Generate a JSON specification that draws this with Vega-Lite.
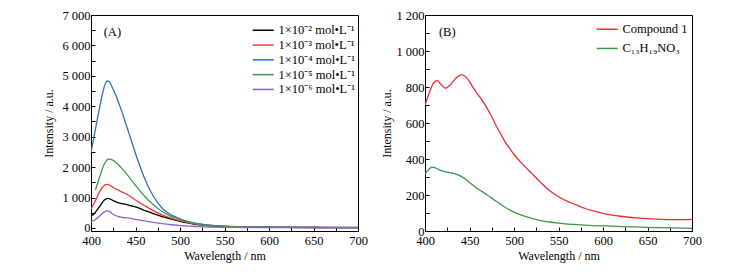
{
  "$schema": "https://vega.github.io/schema/vega-lite/v6.json",
  "padding": {"left": 42, "top": 8, "right": 5, "bottom": 5},
  "background": "white",
  "config": {
    "font": "Liberation Serif",
    "view": {"stroke": "#000", "strokeWidth": 1},
    "axis": {
      "grid": false, "domainColor": "#000", "tickColor": "#000", "labelColor": "#000", "titleColor": "#000",
      "labelFont": "Liberation Serif", "titleFont": "Liberation Serif", "labelFontSize": 12.5, "titleFontSize": 12,
      "titleFontWeight": "normal", "labelFlush": false, "labelOverlap": false, "tickSize": -4
    },
    "legend": {"labelFont": "Liberation Serif", "labelFontSize": 12.5, "labelColor": "#000"}
  },
  "datasets": {
    "A": [
      {"s": "1×10⁻² mol•L⁻¹", "wl": 400, "v": 400}, {"s": "1×10⁻² mol•L⁻¹", "wl": 403, "v": 450}, {"s": "1×10⁻² mol•L⁻¹", "wl": 405, "v": 520}, {"s": "1×10⁻² mol•L⁻¹", "wl": 410, "v": 720}, {"s": "1×10⁻² mol•L⁻¹", "wl": 415, "v": 920}, {"s": "1×10⁻² mol•L⁻¹", "wl": 419, "v": 975}, {"s": "1×10⁻² mol•L⁻¹", "wl": 425, "v": 900}, {"s": "1×10⁻² mol•L⁻¹", "wl": 430, "v": 830}, {"s": "1×10⁻² mol•L⁻¹", "wl": 435, "v": 800}, {"s": "1×10⁻² mol•L⁻¹", "wl": 440, "v": 770}, {"s": "1×10⁻² mol•L⁻¹", "wl": 445, "v": 730}, {"s": "1×10⁻² mol•L⁻¹", "wl": 450, "v": 690}, {"s": "1×10⁻² mol•L⁻¹", "wl": 460, "v": 580}, {"s": "1×10⁻² mol•L⁻¹", "wl": 470, "v": 470}, {"s": "1×10⁻² mol•L⁻¹", "wl": 480, "v": 370}, {"s": "1×10⁻² mol•L⁻¹", "wl": 490, "v": 290}, {"s": "1×10⁻² mol•L⁻¹", "wl": 500, "v": 220}, {"s": "1×10⁻² mol•L⁻¹", "wl": 510, "v": 160}, {"s": "1×10⁻² mol•L⁻¹", "wl": 520, "v": 110}, {"s": "1×10⁻² mol•L⁻¹", "wl": 530, "v": 75}, {"s": "1×10⁻² mol•L⁻¹", "wl": 550, "v": 45}, {"s": "1×10⁻² mol•L⁻¹", "wl": 600, "v": 25}, {"s": "1×10⁻² mol•L⁻¹", "wl": 650, "v": 15}, {"s": "1×10⁻² mol•L⁻¹", "wl": 700, "v": 10},
      {"s": "1×10⁻³ mol•L⁻¹", "wl": 400, "v": 615}, {"s": "1×10⁻³ mol•L⁻¹", "wl": 405, "v": 900}, {"s": "1×10⁻³ mol•L⁻¹", "wl": 410, "v": 1200}, {"s": "1×10⁻³ mol•L⁻¹", "wl": 415, "v": 1400}, {"s": "1×10⁻³ mol•L⁻¹", "wl": 418, "v": 1435}, {"s": "1×10⁻³ mol•L⁻¹", "wl": 420, "v": 1420}, {"s": "1×10⁻³ mol•L⁻¹", "wl": 425, "v": 1330}, {"s": "1×10⁻³ mol•L⁻¹", "wl": 430, "v": 1250}, {"s": "1×10⁻³ mol•L⁻¹", "wl": 435, "v": 1180}, {"s": "1×10⁻³ mol•L⁻¹", "wl": 440, "v": 1110}, {"s": "1×10⁻³ mol•L⁻¹", "wl": 450, "v": 920}, {"s": "1×10⁻³ mol•L⁻¹", "wl": 460, "v": 740}, {"s": "1×10⁻³ mol•L⁻¹", "wl": 470, "v": 570}, {"s": "1×10⁻³ mol•L⁻¹", "wl": 480, "v": 430}, {"s": "1×10⁻³ mol•L⁻¹", "wl": 490, "v": 320}, {"s": "1×10⁻³ mol•L⁻¹", "wl": 500, "v": 240}, {"s": "1×10⁻³ mol•L⁻¹", "wl": 510, "v": 170}, {"s": "1×10⁻³ mol•L⁻¹", "wl": 520, "v": 120}, {"s": "1×10⁻³ mol•L⁻¹", "wl": 530, "v": 85}, {"s": "1×10⁻³ mol•L⁻¹", "wl": 550, "v": 50}, {"s": "1×10⁻³ mol•L⁻¹", "wl": 600, "v": 25}, {"s": "1×10⁻³ mol•L⁻¹", "wl": 650, "v": 15}, {"s": "1×10⁻³ mol•L⁻¹", "wl": 700, "v": 10},
      {"s": "1×10⁻⁴ mol•L⁻¹", "wl": 400, "v": 2480}, {"s": "1×10⁻⁴ mol•L⁻¹", "wl": 405, "v": 3250}, {"s": "1×10⁻⁴ mol•L⁻¹", "wl": 410, "v": 4000}, {"s": "1×10⁻⁴ mol•L⁻¹", "wl": 415, "v": 4650}, {"s": "1×10⁻⁴ mol•L⁻¹", "wl": 418, "v": 4830}, {"s": "1×10⁻⁴ mol•L⁻¹", "wl": 420, "v": 4820}, {"s": "1×10⁻⁴ mol•L⁻¹", "wl": 425, "v": 4550}, {"s": "1×10⁻⁴ mol•L⁻¹", "wl": 430, "v": 4200}, {"s": "1×10⁻⁴ mol•L⁻¹", "wl": 435, "v": 3800}, {"s": "1×10⁻⁴ mol•L⁻¹", "wl": 440, "v": 3350}, {"s": "1×10⁻⁴ mol•L⁻¹", "wl": 445, "v": 2900}, {"s": "1×10⁻⁴ mol•L⁻¹", "wl": 450, "v": 2450}, {"s": "1×10⁻⁴ mol•L⁻¹", "wl": 455, "v": 2030}, {"s": "1×10⁻⁴ mol•L⁻¹", "wl": 460, "v": 1650}, {"s": "1×10⁻⁴ mol•L⁻¹", "wl": 465, "v": 1320}, {"s": "1×10⁻⁴ mol•L⁻¹", "wl": 470, "v": 1050}, {"s": "1×10⁻⁴ mol•L⁻¹", "wl": 475, "v": 830}, {"s": "1×10⁻⁴ mol•L⁻¹", "wl": 480, "v": 650}, {"s": "1×10⁻⁴ mol•L⁻¹", "wl": 490, "v": 430}, {"s": "1×10⁻⁴ mol•L⁻¹", "wl": 500, "v": 300}, {"s": "1×10⁻⁴ mol•L⁻¹", "wl": 510, "v": 200}, {"s": "1×10⁻⁴ mol•L⁻¹", "wl": 520, "v": 140}, {"s": "1×10⁻⁴ mol•L⁻¹", "wl": 530, "v": 100}, {"s": "1×10⁻⁴ mol•L⁻¹", "wl": 550, "v": 60}, {"s": "1×10⁻⁴ mol•L⁻¹", "wl": 600, "v": 30}, {"s": "1×10⁻⁴ mol•L⁻¹", "wl": 650, "v": 20}, {"s": "1×10⁻⁴ mol•L⁻¹", "wl": 700, "v": 15},
      {"s": "1×10⁻⁵ mol•L⁻¹", "wl": 405, "v": 1250}, {"s": "1×10⁻⁵ mol•L⁻¹", "wl": 410, "v": 1700}, {"s": "1×10⁻⁵ mol•L⁻¹", "wl": 415, "v": 2100}, {"s": "1×10⁻⁵ mol•L⁻¹", "wl": 420, "v": 2260}, {"s": "1×10⁻⁵ mol•L⁻¹", "wl": 425, "v": 2220}, {"s": "1×10⁻⁵ mol•L⁻¹", "wl": 430, "v": 2100}, {"s": "1×10⁻⁵ mol•L⁻¹", "wl": 435, "v": 1950}, {"s": "1×10⁻⁵ mol•L⁻¹", "wl": 440, "v": 1780}, {"s": "1×10⁻⁵ mol•L⁻¹", "wl": 450, "v": 1400}, {"s": "1×10⁻⁵ mol•L⁻¹", "wl": 460, "v": 1050}, {"s": "1×10⁻⁵ mol•L⁻¹", "wl": 470, "v": 760}, {"s": "1×10⁻⁵ mol•L⁻¹", "wl": 480, "v": 540}, {"s": "1×10⁻⁵ mol•L⁻¹", "wl": 490, "v": 380}, {"s": "1×10⁻⁵ mol•L⁻¹", "wl": 500, "v": 280}, {"s": "1×10⁻⁵ mol•L⁻¹", "wl": 510, "v": 190}, {"s": "1×10⁻⁵ mol•L⁻¹", "wl": 520, "v": 130}, {"s": "1×10⁻⁵ mol•L⁻¹", "wl": 530, "v": 90}, {"s": "1×10⁻⁵ mol•L⁻¹", "wl": 550, "v": 55}, {"s": "1×10⁻⁵ mol•L⁻¹", "wl": 600, "v": 30}, {"s": "1×10⁻⁵ mol•L⁻¹", "wl": 650, "v": 20}, {"s": "1×10⁻⁵ mol•L⁻¹", "wl": 700, "v": 15},
      {"s": "1×10⁻⁶ mol•L⁻¹", "wl": 400, "v": 210}, {"s": "1×10⁻⁶ mol•L⁻¹", "wl": 405, "v": 280}, {"s": "1×10⁻⁶ mol•L⁻¹", "wl": 410, "v": 400}, {"s": "1×10⁻⁶ mol•L⁻¹", "wl": 415, "v": 530}, {"s": "1×10⁻⁶ mol•L⁻¹", "wl": 418, "v": 560}, {"s": "1×10⁻⁶ mol•L⁻¹", "wl": 420, "v": 550}, {"s": "1×10⁻⁶ mol•L⁻¹", "wl": 425, "v": 450}, {"s": "1×10⁻⁶ mol•L⁻¹", "wl": 430, "v": 380}, {"s": "1×10⁻⁶ mol•L⁻¹", "wl": 435, "v": 350}, {"s": "1×10⁻⁶ mol•L⁻¹", "wl": 440, "v": 330}, {"s": "1×10⁻⁶ mol•L⁻¹", "wl": 450, "v": 285}, {"s": "1×10⁻⁶ mol•L⁻¹", "wl": 460, "v": 235}, {"s": "1×10⁻⁶ mol•L⁻¹", "wl": 470, "v": 185}, {"s": "1×10⁻⁶ mol•L⁻¹", "wl": 480, "v": 140}, {"s": "1×10⁻⁶ mol•L⁻¹", "wl": 490, "v": 105}, {"s": "1×10⁻⁶ mol•L⁻¹", "wl": 500, "v": 80}, {"s": "1×10⁻⁶ mol•L⁻¹", "wl": 510, "v": 60}, {"s": "1×10⁻⁶ mol•L⁻¹", "wl": 520, "v": 45}, {"s": "1×10⁻⁶ mol•L⁻¹", "wl": 550, "v": 22}, {"s": "1×10⁻⁶ mol•L⁻¹", "wl": 600, "v": 12}, {"s": "1×10⁻⁶ mol•L⁻¹", "wl": 650, "v": 9}, {"s": "1×10⁻⁶ mol•L⁻¹", "wl": 700, "v": 8}
    ],
    "B": [
      {"s": "Compound 1", "wl": 400, "v": 700}, {"s": "Compound 1", "wl": 405, "v": 770}, {"s": "Compound 1", "wl": 410, "v": 825}, {"s": "Compound 1", "wl": 414, "v": 835}, {"s": "Compound 1", "wl": 418, "v": 815}, {"s": "Compound 1", "wl": 423, "v": 793}, {"s": "Compound 1", "wl": 428, "v": 810}, {"s": "Compound 1", "wl": 435, "v": 850}, {"s": "Compound 1", "wl": 441, "v": 867}, {"s": "Compound 1", "wl": 445, "v": 860}, {"s": "Compound 1", "wl": 450, "v": 830}, {"s": "Compound 1", "wl": 455, "v": 790}, {"s": "Compound 1", "wl": 460, "v": 755}, {"s": "Compound 1", "wl": 465, "v": 720}, {"s": "Compound 1", "wl": 470, "v": 680}, {"s": "Compound 1", "wl": 475, "v": 635}, {"s": "Compound 1", "wl": 480, "v": 585}, {"s": "Compound 1", "wl": 485, "v": 540}, {"s": "Compound 1", "wl": 490, "v": 495}, {"s": "Compound 1", "wl": 495, "v": 460}, {"s": "Compound 1", "wl": 500, "v": 425}, {"s": "Compound 1", "wl": 510, "v": 370}, {"s": "Compound 1", "wl": 520, "v": 320}, {"s": "Compound 1", "wl": 530, "v": 270}, {"s": "Compound 1", "wl": 540, "v": 225}, {"s": "Compound 1", "wl": 550, "v": 190}, {"s": "Compound 1", "wl": 560, "v": 165}, {"s": "Compound 1", "wl": 570, "v": 145}, {"s": "Compound 1", "wl": 580, "v": 125}, {"s": "Compound 1", "wl": 590, "v": 110}, {"s": "Compound 1", "wl": 600, "v": 98}, {"s": "Compound 1", "wl": 620, "v": 82}, {"s": "Compound 1", "wl": 640, "v": 72}, {"s": "Compound 1", "wl": 660, "v": 66}, {"s": "Compound 1", "wl": 680, "v": 63}, {"s": "Compound 1", "wl": 700, "v": 65},
      {"s": "C₁₃H₁₉NO₃", "wl": 400, "v": 318}, {"s": "C₁₃H₁₉NO₃", "wl": 405, "v": 345}, {"s": "C₁₃H₁₉NO₃", "wl": 408, "v": 355}, {"s": "C₁₃H₁₉NO₃", "wl": 412, "v": 350}, {"s": "C₁₃H₁₉NO₃", "wl": 418, "v": 335}, {"s": "C₁₃H₁₉NO₃", "wl": 425, "v": 327}, {"s": "C₁₃H₁₉NO₃", "wl": 432, "v": 320}, {"s": "C₁₃H₁₉NO₃", "wl": 440, "v": 305}, {"s": "C₁₃H₁₉NO₃", "wl": 445, "v": 290}, {"s": "C₁₃H₁₉NO₃", "wl": 450, "v": 270}, {"s": "C₁₃H₁₉NO₃", "wl": 455, "v": 250}, {"s": "C₁₃H₁₉NO₃", "wl": 460, "v": 232}, {"s": "C₁₃H₁₉NO₃", "wl": 470, "v": 200}, {"s": "C₁₃H₁₉NO₃", "wl": 480, "v": 165}, {"s": "C₁₃H₁₉NO₃", "wl": 490, "v": 132}, {"s": "C₁₃H₁₉NO₃", "wl": 500, "v": 105}, {"s": "C₁₃H₁₉NO₃", "wl": 510, "v": 85}, {"s": "C₁₃H₁₉NO₃", "wl": 520, "v": 70}, {"s": "C₁₃H₁₉NO₃", "wl": 530, "v": 58}, {"s": "C₁₃H₁₉NO₃", "wl": 540, "v": 50}, {"s": "C₁₃H₁₉NO₃", "wl": 550, "v": 44}, {"s": "C₁₃H₁₉NO₃", "wl": 575, "v": 34}, {"s": "C₁₃H₁₉NO₃", "wl": 600, "v": 28}, {"s": "C₁₃H₁₉NO₃", "wl": 650, "v": 20}, {"s": "C₁₃H₁₉NO₃", "wl": 700, "v": 15}
    ],
    "labA": [{"t": "(A)", "wl": 424, "v": 6450}],
    "labB": [{"t": "(B)", "wl": 425, "v": 1105}]
  },
  "hconcat": [
    {
      "width": 267, "height": 216,
      "encoding": {
        "x": {"field": "wl", "type": "quantitative", "scale": {"domain": [400, 700], "nice": false},
          "axis": {"title": "Wavelength / nm", "values": [400,425,450,475,500,525,550,575,600,625,650,675,700],
            "labelExpr": "datum.value % 50 === 0 ? datum.label : ''", "labelPadding": 7, "titlePadding": 4}},
        "y": {"field": "v", "type": "quantitative", "scale": {"domain": [-100, 7000], "nice": false, "zero": false},
          "axis": {"title": "Intensity / a.u.", "values": [0,500,1000,1500,2000,2500,3000,3500,4000,4500,5000,5500,6000,6500,7000],
            "labelExpr": "datum.value % 1000 === 0 ? replace(format(datum.value, ','), ',', ' ') : ''", "labelPadding": 5, "titlePadding": 6}}
      },
      "layer": [
        {
          "data": {"name": "A"},
          "mark": {"type": "line", "interpolate": "monotone", "strokeWidth": 1.3, "clip": true},
          "encoding": {
            "color": {"field": "s", "type": "nominal",
              "scale": {"domain": ["1×10⁻² mol•L⁻¹", "1×10⁻³ mol•L⁻¹", "1×10⁻⁴ mol•L⁻¹", "1×10⁻⁵ mol•L⁻¹", "1×10⁻⁶ mol•L⁻¹"],
                "range": ["#000000", "#ef3b36", "#2f6fc4", "#3a9a54", "#8a62c8"]},
              "legend": {"title": null, "orient": "none", "legendX": 166, "legendY": 9, "symbolType": "M-2,0L2,0", "symbolSize": 110, "symbolStrokeWidth": 1.5, "rowPadding": 1.8, "labelOffset": 9}}
          }
        },
        {
          "data": {"name": "labA"},
          "mark": {"type": "text", "fontSize": 12.5, "font": "Liberation Serif", "color": "#000"},
          "encoding": {"text": {"field": "t"}}
        }
      ]
    },
    {
      "width": 267, "height": 216,
      "encoding": {
        "x": {"field": "wl", "type": "quantitative", "scale": {"domain": [400, 700], "nice": false},
          "axis": {"title": "Wavelength / nm", "values": [400,425,450,475,500,525,550,575,600,625,650,675,700],
            "labelExpr": "datum.value % 50 === 0 ? datum.label : ''", "labelPadding": 7, "titlePadding": 4}},
        "y": {"field": "v", "type": "quantitative", "scale": {"domain": [0, 1200], "nice": false},
          "axis": {"title": "Intensity / a.u.", "values": [0,100,200,300,400,500,600,700,800,900,1000,1100,1200],
            "labelExpr": "datum.value % 200 === 0 ? replace(format(datum.value, ','), ',', ' ') : ''", "labelPadding": 5, "titlePadding": 2}}
      },
      "layer": [
        {
          "data": {"name": "B"},
          "mark": {"type": "line", "interpolate": "monotone", "strokeWidth": 1.3, "clip": true},
          "encoding": {
            "color": {"field": "s", "type": "nominal",
              "scale": {"domain": ["Compound 1", "C₁₃H₁₉NO₃"], "range": ["#f42a2a", "#3d9448"]},
              "legend": {"title": null, "orient": "none", "legendX": 176, "legendY": 8, "symbolType": "M-2,0L2,0", "symbolSize": 110, "symbolStrokeWidth": 1.5, "rowPadding": 6.2, "labelOffset": 9}}
          }
        },
        {
          "data": {"name": "labB"},
          "mark": {"type": "text", "fontSize": 12.5, "font": "Liberation Serif", "color": "#000"},
          "encoding": {"text": {"field": "t"}}
        }
      ]
    }
  ],
  "spacing": 12,
  "resolve": {"scale": {"color": "independent"}, "legend": {"color": "independent"}}
}
